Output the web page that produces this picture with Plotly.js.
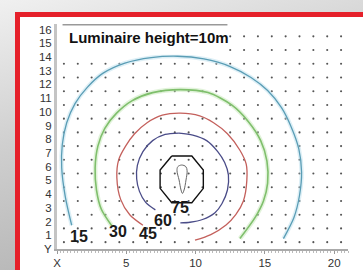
<!DOCTYPE html>
<html>
<head>
<meta charset="utf-8">
<script src="https://cdn.plot.ly/plotly-3.0.1.min.js"></script>
<style>
html,body{margin:0;padding:0;width:363px;height:270px;overflow:hidden;}
body{background:linear-gradient(165deg,#f0f0f0 0%,#cfcfcf 40%,#a9a9a9 100%);position:relative;}
#frame{position:absolute;left:15px;top:12px;width:400px;height:300px;border:5px solid #e5202a;background:#fff;box-sizing:border-box;}
#chart{position:absolute;left:0;top:0;width:363px;height:270px;}
</style>
</head>
<body>
<div id="frame"></div>
<div id="chart"></div>
<script>
// Grid of measuring points (dots)
var gridX = [0.5,1.5,2.5,3.5,4.5,5.5,6.5,7.5,8.5,9.5,10.5,11.5,12.5,13.5,14.5,15.5,16.5,17.5,18.5,19.5,20.5];
var gridY = [0.5,1.5,2.5,3.5,4.5,5.5,6.5,7.5,8.5,9.5,10.5,11.5,12.5,13.5,14.5,15.5];

// Isolux curves (lux)
var iso15x = [1.06,0.6,0.34,0.38,0.7,1.3,2.2,3.3,4.9,6.8,8.7,10.6,12.5,14.0,15.2,16.2,16.9,17.45,17.65,17.5,17.1,16.34];
var iso15y = [1.73,3.8,5.9,7.6,9.2,10.6,11.8,12.8,13.55,13.95,14.05,13.85,13.3,12.5,11.55,10.3,8.9,7.3,5.6,3.9,2.3,0.76];

var iso30x = [3.95,3.2,2.85,2.75,2.95,3.45,4.3,5.4,6.9,8.9,10.9,12.6,13.8,14.7,15.15,15.2,14.9,14.3,13.2];
var iso30y = [1.7,2.9,4.3,5.9,7.5,8.8,9.9,10.8,11.4,11.62,11.4,10.5,9.3,7.9,6.4,4.8,3.5,2.3,0.76];

var iso45x = [6.2,5.25,4.6,4.32,4.45,4.95,5.6,6.5,7.6,8.9,10.3,11.3,12.3,13.2,13.65,13.7,13.45,12.9,12.2,11.1,9.96];
var iso45y = [1.73,2.5,3.6,5.2,6.5,7.5,8.4,9.2,9.75,9.9,9.7,9.2,8.4,7.2,6.2,5.0,3.5,2.5,1.75,1.05,0.64];

var iso60ax = [7.1,6.4,5.95,5.75,5.8,6.2,6.9,7.8,8.8];
var iso60ay = [2.85,3.4,4.2,5.1,6.1,7.1,7.9,8.35,8.45];
var iso60bx = [8.8,9.8,10.8,11.6,12.1,12.37,12.3,11.9,11.4,10.5,9.6,8.9];
var iso60by = [8.45,8.3,7.9,7.1,6.3,5.4,4.3,3.3,2.65,2.15,1.95,1.9];

var iso75x = [8.28,9.73,10.56,10.56,9.73,8.28,7.44,7.44,8.28];
var iso75y = [6.78,6.78,5.76,4.42,3.37,3.37,4.42,5.76,6.78];

var iso90x = [9.0,8.72,8.66,8.81,8.95,9.05,9.17,9.31,9.39,9.3,9.0];
var iso90y = [6.12,6.0,5.7,5.03,4.3,4.05,4.3,5.03,5.7,6.0,6.12];

var labelText = ["15","30","45","60","75"];
var labelX = [1.6,4.4,6.6,7.65,8.88];
var labelY = [0.9,1.25,1.1,2.05,3.05];

var xTickVals = [0,5,10,15,20];
var xTickText = ["X","5","10","15","20"];
var yTickVals = [0,1,2,3,4,5,6,7,8,9,10,11,12,13,14,15,16];
var yTickText = ["Y","1","2","3","4","5","6","7","8","9","10","11","12","13","14","15","16"];

var titleText = "Luminaire height=10m";

var dx = [], dy = [];
gridX.forEach(function(x){ gridY.forEach(function(y){ dx.push(x); dy.push(y); }); });

function curve(x, y, color, width, halo){
  var out = [];
  if (halo) out.push({x:x, y:y, mode:'lines', type:'scatter', line:{color:halo, width:width+3, shape:'spline', smoothing:0.8}, hoverinfo:'skip'});
  out.push({x:x, y:y, mode:'lines', type:'scatter', line:{color:color, width:width, shape:'spline', smoothing:0.8}, hoverinfo:'skip'});
  return out;
}

var traces = [];
traces.push({x:dx, y:dy, mode:'markers', type:'scatter', marker:{size:2.1, color:'#555'}, hoverinfo:'skip'});
traces = traces.concat(curve(iso15x, iso15y, '#5a9db5', 1.3, 'rgba(180,220,235,0.45)'));
traces = traces.concat(curve(iso30x, iso30y, '#7fbf6c', 1.6, 'rgba(190,228,175,0.45)'));
traces = traces.concat(curve(iso45x, iso45y, '#c4605c', 1.3, null));
traces = traces.concat(curve(iso60ax, iso60ay, '#4a4c88', 1.3, null));
traces = traces.concat(curve(iso60bx, iso60by, '#4a4c88', 1.3, null));
traces.push({x:iso75x, y:iso75y, mode:'lines', type:'scatter', line:{color:'#111', width:1.4}, hoverinfo:'skip'});
traces.push({x:iso90x, y:iso90y, mode:'lines', type:'scatter', line:{color:'#666', width:1, shape:'spline'}, hoverinfo:'skip'});

var annotations = labelText.map(function(t,i){
  return {x:labelX[i], y:labelY[i], xref:'x', yref:'y', text:'<b>'+t+'</b>', showarrow:false,
          font:{family:'Liberation Sans Narrow, Liberation Sans, Arial', size:16, color:'#1a1a1a'}};
});
annotations.push({x:0.7, y:15.45, xref:'x', yref:'y', xanchor:'left', yanchor:'middle', showarrow:false,
  text:'<b>'+titleText+'</b>', font:{family:'Liberation Sans, Arial', size:15, color:'#111'}});

var layout = {
  width:363, height:270,
  margin:{l:57, r:15, t:24, b:21, pad:0},
  paper_bgcolor:'rgba(0,0,0,0)',
  plot_bgcolor:'#ffffff',
  showlegend:false,
  font:{family:'Liberation Sans, Arial', size:11, color:'#333'},
  xaxis:{range:[0,21], showgrid:false, zeroline:false, showline:true, linecolor:'#aaa', linewidth:1.5,
         tickvals:xTickVals, ticktext:xTickText, ticks:'outside', ticklen:3, tickcolor:'#999',
         minor:{dtick:0.25, ticks:'outside', ticklen:2, tickcolor:'#bbb'},
         tickfont:{size:11.5, color:'#333'}},
  yaxis:{range:[0,16.4], showgrid:false, zeroline:false, showline:true, linecolor:'#c4c4c4', linewidth:3,
         tickvals:yTickVals, ticktext:yTickText, ticks:'', tickfont:{size:11.5, color:'#333'}},
  shapes:[
    {type:'rect', xref:'x', yref:'y', x0:0.05, x1:12.2, y0:14.15, y1:16.4, fillcolor:'#fff', line:{width:0}, layer:'above'},
    {type:'line', xref:'x', yref:'y', x0:0.4, x1:12.3, y0:16.35, y1:16.35, line:{color:'#999', width:1.5}, layer:'above'}
  ],
  annotations:annotations
};

Plotly.newPlot('chart', traces, layout, {staticPlot:true, displayModeBar:false});
</script>
</body>
</html>
